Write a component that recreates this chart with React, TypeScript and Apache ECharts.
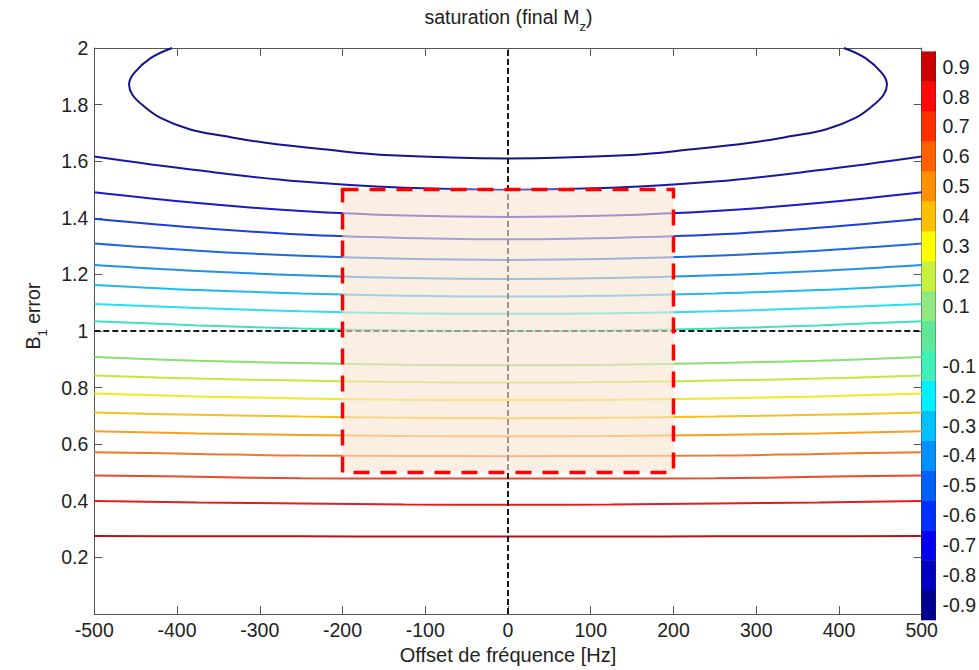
import React, { useEffect, useRef } from "react";
import * as echarts from "echarts";

// ---- data ----
const xTicks = [-500, -400, -300, -200, -100, 0, 100, 200, 300, 400, 500];
const xs = [-500, -375, -250, -125, 0, 125, 250, 375, 500];

const levels = [0.9, 0.8, 0.7, 0.6, 0.5, 0.4, 0.3, 0.2, 0.1, -0.1, -0.2, -0.3, -0.4, -0.5, -0.6, -0.7, -0.8];
const c_p09 = [0.276, 0.275, 0.275, 0.274, 0.274, 0.274, 0.275, 0.275, 0.276];
const c_p08 = [0.4, 0.394, 0.391, 0.387, 0.386, 0.387, 0.391, 0.394, 0.4];
const c_p07 = [0.49, 0.485, 0.48, 0.479, 0.479, 0.479, 0.48, 0.485, 0.49];
const c_p06 = [0.572, 0.566, 0.56, 0.559, 0.558, 0.559, 0.56, 0.566, 0.572];
const c_p05 = [0.646, 0.638, 0.633, 0.629, 0.628, 0.629, 0.633, 0.638, 0.646];
const c_p04 = [0.712, 0.704, 0.698, 0.694, 0.692, 0.694, 0.698, 0.704, 0.712];
const c_p03 = [0.779, 0.769, 0.762, 0.757, 0.756, 0.757, 0.762, 0.769, 0.779];
const c_p02 = [0.843, 0.832, 0.825, 0.82, 0.818, 0.82, 0.825, 0.832, 0.843];
const c_p01 = [0.908, 0.895, 0.887, 0.881, 0.879, 0.881, 0.887, 0.895, 0.908];
const c_m01 = [1.035, 1.02, 1.009, 1.002, 1.0, 1.002, 1.009, 1.02, 1.035];
const c_m02 = [1.096, 1.081, 1.07, 1.063, 1.061, 1.063, 1.07, 1.081, 1.096];
const c_m03 = [1.163, 1.145, 1.133, 1.125, 1.122, 1.125, 1.133, 1.145, 1.163];
const c_m04 = [1.233, 1.212, 1.197, 1.187, 1.184, 1.187, 1.197, 1.212, 1.233];
const c_m05 = [1.309, 1.284, 1.266, 1.255, 1.251, 1.255, 1.266, 1.284, 1.309];
const c_m06 = [1.397, 1.365, 1.341, 1.329, 1.324, 1.329, 1.341, 1.365, 1.397];
const c_m07 = [1.49, 1.452, 1.424, 1.408, 1.403, 1.408, 1.424, 1.452, 1.49];
const c_m08 = [1.617, 1.568, 1.528, 1.506, 1.4985, 1.506, 1.528, 1.568, 1.617];
const contourValues = [c_p09, c_p08, c_p07, c_p06, c_p05, c_p04, c_p03, c_p02, c_p01,
  c_m01, c_m02, c_m03, c_m04, c_m05, c_m06, c_m07, c_m08];
const lineColors = ["#b41414", "#e41c1c", "#eb4a28", "#f07828", "#f5a020", "#f5c020", "#f0e820", "#c0e840", "#88e070",
  "#40e0c0", "#28e0f0", "#20b8f0", "#2090e8", "#2068e0", "#1a40d8", "#1a1ac8", "#1818a8"];

// the -0.9 contour (top loop, clipped at B1 = 2)
const loopX = [-406, -432, -452, -458, -454, -440, -420, -384, -343, -295, -223, -142, 0, 142, 223, 295, 343, 384, 420, 440, 454, 458, 452, 432, 406];
const loopY = [2.0, 1.964, 1.911, 1.87, 1.835, 1.794, 1.753, 1.712, 1.689, 1.666, 1.642, 1.621, 1.61, 1.621, 1.642, 1.666, 1.689, 1.712, 1.753, 1.794, 1.835, 1.87, 1.911, 1.964, 2.0];
const loopColor = "#14148c";

// dashed reference lines
const refVX = [0, 0];
const refVY = [0, 2];
const refHX = [-500, 500];
const refHY = [1, 1];

// highlighted box
const boxX = [-200, 200];
const boxY = [0.5, 1.5];

// colorbar
const barLevels = [-0.9, -0.8, -0.7, -0.6, -0.5, -0.4, -0.3, -0.2, -0.1, 0, 0.1, 0.2, 0.3, 0.4, 0.5, 0.6, 0.7, 0.8, 0.9];
const barColors = ["#000090", "#0000c0", "#0000f0", "#0030ff", "#0060ff", "#0090ff", "#00c0ff", "#00f0ff", "#40f0b8",
  "#60e898", "#90e880", "#c8f040", "#ffff00", "#ffc000", "#ff9000", "#ff6000", "#ff3000", "#ff0808", "#c80000"];
const barTicks = [0.9, 0.8, 0.7, 0.6, 0.5, 0.4, 0.3, 0.2, 0.1, -0.1, -0.2, -0.3, -0.4, -0.5, -0.6, -0.7, -0.8, -0.9];

const FONT = "'Liberation Sans', Arial, Helvetica, sans-serif";
const TXT = "#222222";
const AX = "#555555";

export default function App() {
  const ref = useRef<HTMLDivElement>(null);
  useEffect(() => {
    if (!ref.current) return;
    const chart = echarts.init(ref.current, null, { renderer: "svg" });

    const contourSeries: any[] = contourValues.map((vals, k) => ({
      type: "line",
      name: "level " + levels[k],
      xAxisIndex: 0,
      yAxisIndex: 0,
      data: xs.map((x, i) => [x, vals[i]]),
      smooth: 0.4,
      showSymbol: false,
      symbol: "none",
      silent: true,
      z: 2,
      lineStyle: { color: lineColors[k], width: 2 },
    }));

    const option: any = {
      animation: false,
      backgroundColor: "#ffffff",
      textStyle: { fontFamily: FONT },
      title: {
        text: "saturation (final M{sub|z})",
        left: 508.5,
        top: 7,
        textAlign: "center",
        padding: 0,
        textStyle: {
          fontFamily: FONT,
          fontSize: 19.5,
          fontWeight: "normal",
          color: TXT,
          lineHeight: 20,
          rich: {
            sub: { fontFamily: FONT, fontSize: 13, lineHeight: 13, padding: [18, 0, 0, 0], color: TXT },
          },
        },
      },
      grid: [
        { left: 94.3, right: 57.3, top: 48, bottom: 51.7, containLabel: false },
        { left: 921.7, width: 25, top: 51.7, height: 568.3, containLabel: false },
      ],
      xAxis: [
        {
          gridIndex: 0, type: "value", min: xTicks[0], max: xTicks[xTicks.length - 1], interval: 100,
          position: "bottom",
          axisLine: { show: true, onZero: false, lineStyle: { color: AX, width: 1 } },
          axisTick: { show: true, inside: true, length: 8, lineStyle: { color: AX } },
          axisLabel: { show: true, fontSize: 19.5, color: TXT, fontFamily: FONT, margin: 6 },
          splitLine: { show: false },
          name: "Offset de fréquence [Hz]",
          nameLocation: "middle",
          nameGap: 30,
          nameTextStyle: { fontSize: 20, color: TXT, fontFamily: FONT },
        },
        {
          gridIndex: 0, type: "value", min: xTicks[0], max: xTicks[xTicks.length - 1], interval: 100,
          position: "top",
          axisLine: { show: true, onZero: false, lineStyle: { color: AX, width: 1 } },
          axisTick: { show: true, inside: true, length: 8, lineStyle: { color: AX } },
          axisLabel: { show: false },
          splitLine: { show: false },
        },
        { gridIndex: 1, type: "value", min: 0, max: 1, show: false },
      ],
      yAxis: [
        {
          gridIndex: 0, type: "value", min: 0, max: 2, interval: 0.2, position: "left",
          axisLine: { show: true, onZero: false, lineStyle: { color: AX, width: 1 } },
          axisTick: { show: true, inside: true, length: 8, lineStyle: { color: AX } },
          axisLabel: {
            show: true, fontSize: 19.5, color: TXT, fontFamily: FONT, margin: 6,
            formatter: (v: number) => (v === 0 ? "" : String(Math.round(v * 10) / 10)),
          },
          splitLine: { show: false },
        },
        {
          gridIndex: 0, type: "value", min: 0, max: 2, interval: 0.2, position: "right",
          axisLine: { show: true, onZero: false, lineStyle: { color: AX, width: 1 } },
          axisTick: { show: true, inside: true, length: 8, lineStyle: { color: AX } },
          axisLabel: { show: false },
          splitLine: { show: false },
        },
        {
          gridIndex: 1, type: "value", min: -0.95, max: 0.95, position: "right",
          axisLine: { show: true, onZero: false, lineStyle: { color: "#333", width: 1 } },
          axisTick: { show: true, inside: true, length: 4, customValues: barTicks, lineStyle: { color: "#333" } },
          axisLabel: {
            show: true, fontSize: 19.5, color: TXT, fontFamily: FONT, margin: 7,
            customValues: barTicks,
            formatter: (v: number) => (Math.round(v * 10) / 10).toFixed(1),
          },
          splitLine: { show: false },
        },
        {
          gridIndex: 1, type: "value", min: -0.95, max: 0.95, position: "left",
          axisLine: { show: true, onZero: false, lineStyle: { color: "#333", width: 1 } },
          axisTick: { show: true, inside: true, length: 4, customValues: barTicks, lineStyle: { color: "#333" } },
          axisLabel: { show: false },
          splitLine: { show: false },
        },
      ],
      graphic: [
        {
          type: "text",
          x: 33,
          y: 316,
          rotation: Math.PI / 2,
          style: {
            text: "B{sub|1} error",
            fontFamily: FONT,
            fontSize: 19.5,
            fill: TXT,
            align: "center",
            verticalAlign: "middle",
            lineHeight: 20,
            rich: {
              sub: { fontFamily: FONT, fontSize: 13, lineHeight: 13, padding: [18, 0, 0, 0], fill: TXT },
            },
          },
        },
      ],
      series: [
        ...contourSeries,
        {
          type: "line",
          name: "level -0.9",
          xAxisIndex: 0,
          yAxisIndex: 0,
          data: loopX.map((x, i) => [x, loopY[i]]),
          smooth: 0.4,
          showSymbol: false,
          symbol: "none",
          silent: true,
          z: 2,
          lineStyle: { color: loopColor, width: 2 },
        },
        {
          type: "line",
          name: "x0",
          xAxisIndex: 0,
          yAxisIndex: 0,
          data: refVX.map((x, i) => [x, refVY[i]]),
          showSymbol: false,
          symbol: "none",
          silent: true,
          z: 3,
          lineStyle: { color: "#1a1a1a", width: 2, type: [6, 3] },
        },
        {
          type: "line",
          name: "y1",
          xAxisIndex: 0,
          yAxisIndex: 0,
          data: refHX.map((x, i) => [x, refHY[i]]),
          showSymbol: false,
          symbol: "none",
          silent: true,
          z: 3,
          lineStyle: { color: "#1a1a1a", width: 2, type: [6, 3] },
        },
        {
          type: "line",
          name: "box",
          xAxisIndex: 0,
          yAxisIndex: 0,
          data: [[boxX[0], boxY[0]], [boxX[1], boxY[1]]],
          showSymbol: false,
          symbol: "none",
          silent: true,
          lineStyle: { width: 0, opacity: 0 },
          markArea: {
            silent: true,
            z: 10,
            itemStyle: {
              color: "rgba(248,226,208,0.6)",
              borderColor: "#ff0000",
              borderWidth: 3.5,
              borderType: [16, 11],
            },
            data: [[{ coord: [boxX[0], boxY[1]] }, { coord: [boxX[1], boxY[0]] }]],
          },
        },
        {
          type: "custom",
          name: "colorbar",
          xAxisIndex: 2,
          yAxisIndex: 2,
          silent: true,
          data: barLevels.map((v, i) => [i, v]),
          encode: { x: -1, y: 1 },
          renderItem: (params: any, api: any) => {
            const idx = api.value(0);
            const v = api.value(1);
            const p1 = api.coord([0, v + 0.05]);
            const p2 = api.coord([1, v - 0.05]);
            return {
              type: "rect",
              shape: { x: p1[0], y: p1[1], width: p2[0] - p1[0], height: p2[1] - p1[1] },
              style: { fill: barColors[idx], stroke: barColors[idx], lineWidth: 0.5 },
            };
          },
        },
      ],
    };
    chart.setOption(option);
    return () => chart.dispose();
  }, []);

  return (
    <div
      ref={ref}
      style={{ position: "fixed", left: 0, top: 0, width: 979, height: 670, background: "#fff" }}
    />
  );
}
